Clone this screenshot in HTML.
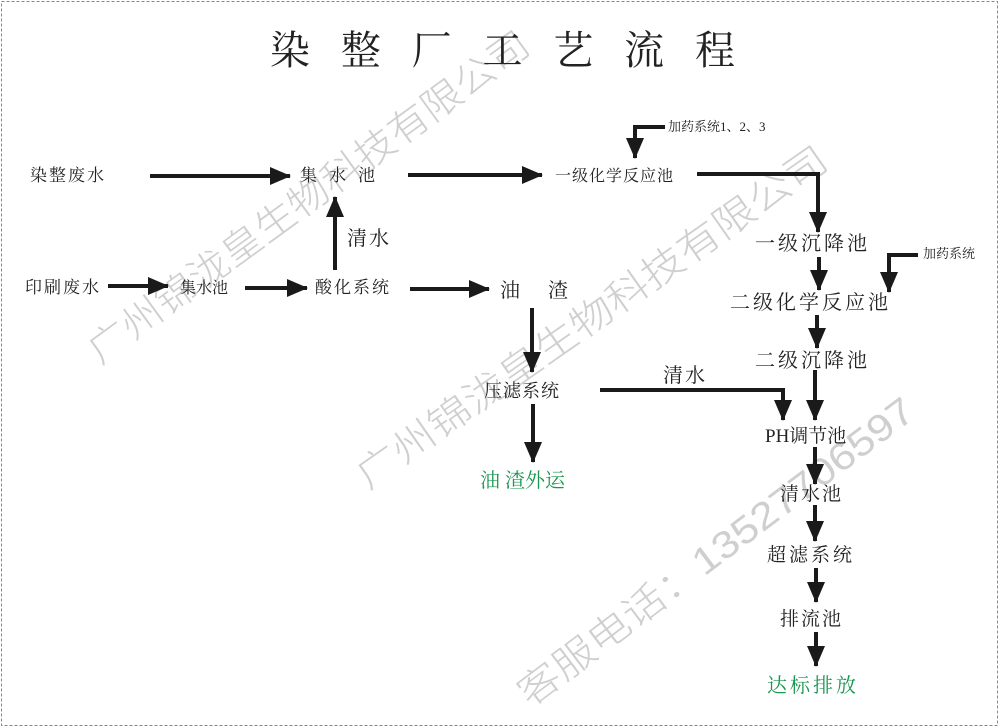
<!DOCTYPE html>
<html><head><meta charset="utf-8"><style>
body{margin:0;background:#fff}
svg{display:block}
text{font-family:"Liberation Serif","Noto Serif CJK SC","Noto Sans CJK SC",serif;fill:#222}
.wm{font-family:"Liberation Sans","Noto Sans CJK SC",sans-serif;fill:#cfcfcf;font-size:38px;font-weight:300}
.g{fill:#1a9650}
</style></head><body>
<svg width="1000" height="728" viewBox="0 0 1000 728" xmlns="http://www.w3.org/2000/svg">
<defs>
<marker id="a" markerUnits="userSpaceOnUse" markerWidth="22" markerHeight="20" refX="20" refY="10" orient="auto">
<polygon points="0,1 21,10 0,19" fill="#1a1a1a"/></marker>
</defs>
<rect x="1.5" y="1.5" width="996" height="724" fill="none" stroke="#888" stroke-dasharray="3,2"/>
<!-- watermarks -->
<text class="wm" transform="translate(100,365) rotate(-36)" textLength="535" lengthAdjust="spacingAndGlyphs">广州锦泷皇生物科技有限公司</text>
<text class="wm" transform="translate(368,490) rotate(-35)" textLength="565" lengthAdjust="spacingAndGlyphs">广州锦泷皇生物科技有限公司</text>
<text class="wm" transform="translate(530,708) rotate(-37)" textLength="485" lengthAdjust="spacingAndGlyphs">客服电话：13527706597</text>

<text x="270" y="64" font-size="40" font-family="Liberation Sans, Noto Sans CJK SC, sans-serif" textLength="465" lengthAdjust="spacing">染整厂工艺流程</text>

<g font-size="17">
<text x="30" y="181" letter-spacing="2">染整废水</text>
<text x="300" y="181" letter-spacing="12">集水池</text>
<text x="555" y="181" font-size="16" letter-spacing="1">一级化学反应池</text>
<text x="668" y="131" font-size="13">加药系统1、2、3</text>
<text x="755" y="250" font-size="20" letter-spacing="3">一级沉降池</text>
<text x="923" y="258" font-size="13">加药系统</text>
<text x="730" y="309" font-size="20" letter-spacing="3">二级化学反应池</text>
<text x="755" y="367" font-size="20" letter-spacing="3">二级沉降池</text>
<text x="765" y="442" font-size="19">PH调节池</text>
<text x="780" y="500" font-size="19" letter-spacing="2">清水池</text>
<text x="767" y="561" font-size="19" letter-spacing="3">超滤系统</text>
<text x="780" y="625" font-size="19" letter-spacing="2">排流池</text>
<text x="767" y="692" font-size="20" letter-spacing="3" class="g">达标排放</text>
<text x="25" y="293" letter-spacing="2">印刷废水</text>
<text x="180" y="293" font-size="16">集水池</text>
<text x="315" y="293" letter-spacing="2">酸化系统</text>
<text x="347" y="245" font-size="20" letter-spacing="2">清水</text>
<text x="500" y="297" font-size="20" letter-spacing="28">油渣</text>
<text x="484" y="397" font-size="18" letter-spacing="1">压滤系统</text>
<text x="663" y="382" font-size="20" letter-spacing="2">清水</text>
<text x="480" y="487" font-size="20" class="g">油 渣外运</text>
</g>

<g stroke="#1a1a1a" stroke-width="4" fill="none" marker-end="url(#a)">
<line x1="150" y1="176" x2="290" y2="176"/>
<line x1="408" y1="175" x2="542" y2="175"/>
<polyline points="697,174 818,174 818,232"/>
<polyline points="665,127 635,127 635,158"/>
<line x1="819" y1="257" x2="819" y2="290"/>
<polyline points="918,255 889,255 889,292"/>
<line x1="817" y1="315" x2="817" y2="348"/>
<line x1="815" y1="370" x2="815" y2="420"/>
<polyline points="600,390 783,390 783,420"/>
<line x1="815" y1="447" x2="815" y2="484"/>
<line x1="815" y1="505" x2="815" y2="541"/>
<line x1="816" y1="568" x2="816" y2="602"/>
<line x1="816" y1="632" x2="816" y2="666"/>
<line x1="108" y1="286" x2="168" y2="286"/>
<line x1="245" y1="288" x2="307" y2="288"/>
<line x1="335" y1="270" x2="335" y2="197"/>
<line x1="410" y1="289" x2="489" y2="289"/>
<line x1="532" y1="308" x2="532" y2="372"/>
<line x1="533" y1="404" x2="533" y2="462"/>
</g>
</svg>
</body></html>
